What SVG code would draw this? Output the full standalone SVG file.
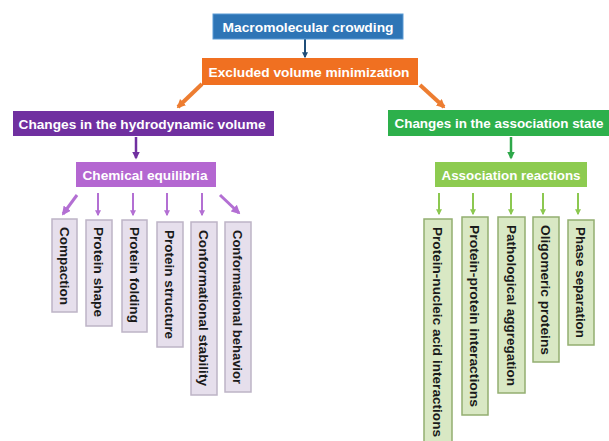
<svg xmlns="http://www.w3.org/2000/svg" width="609" height="441" viewBox="0 0 609 441">
<style>
text{font-family:"Liberation Sans",Arial,sans-serif;font-weight:bold;font-size:13.5px}
.w{fill:#ffffff}
.t{text-anchor:middle}
.v{fill:#1a1a1a;font-size:13.5px}
.pb{fill:#E6DFEC;stroke:#BDB4C6;stroke-width:1.5}
.gb{fill:#D9E8C4;stroke:#93AE70;stroke-width:1.5}
</style>
<defs>
<marker id="mb" viewBox="0 0 10 10" refX="8" refY="5" markerWidth="3" markerHeight="3" orient="auto"><path d="M0,0 L10,5 L0,10 z" fill="#1F4E79"/></marker>
<marker id="mo" viewBox="0 0 10 10" refX="8" refY="5" markerWidth="2.2" markerHeight="2.2" orient="auto"><path d="M0,0 L10,5 L0,10 z" fill="#ED7D31"/></marker>
<marker id="mp" viewBox="0 0 10 10" refX="8" refY="5" markerWidth="3" markerHeight="3" orient="auto"><path d="M0,0 L10,5 L0,10 z" fill="#7030A0"/></marker>
<marker id="ml" viewBox="0 0 10 10" refX="8" refY="5" markerWidth="3" markerHeight="3" orient="auto"><path d="M0,0 L10,5 L0,10 z" fill="#B36FD3"/></marker>
<marker id="mg" viewBox="0 0 10 10" refX="8" refY="5" markerWidth="3" markerHeight="3" orient="auto"><path d="M0,0 L10,5 L0,10 z" fill="#2EA84A"/></marker>
<marker id="mq" viewBox="0 0 10 10" refX="8" refY="5" markerWidth="3" markerHeight="3" orient="auto"><path d="M0,0 L10,5 L0,10 z" fill="#8CC850"/></marker>
</defs>
<rect width="609" height="441" fill="#ffffff"/>
<g id="connectors" fill="none">
<line x1="305" y1="39" x2="305" y2="57" stroke="#1F4E79" stroke-width="2" marker-end="url(#mb)"/>
<line x1="202" y1="84" x2="178" y2="107" stroke="#ED7D31" stroke-width="4" marker-end="url(#mo)"/>
<line x1="420" y1="85" x2="444" y2="107" stroke="#ED7D31" stroke-width="4" marker-end="url(#mo)"/>
<line x1="136" y1="137" x2="136" y2="158" stroke="#7030A0" stroke-width="2.5" marker-end="url(#mp)"/>
<line x1="511" y1="137" x2="511" y2="158" stroke="#2EA84A" stroke-width="2.5" marker-end="url(#mg)"/>
<line x1="77" y1="195" x2="63" y2="214" stroke="#B36FD3" stroke-width="3" marker-end="url(#ml)"/>
<line x1="98" y1="193" x2="98" y2="215" stroke="#B36FD3" stroke-width="2" marker-end="url(#ml)"/>
<line x1="133" y1="193" x2="133" y2="215" stroke="#B36FD3" stroke-width="2" marker-end="url(#ml)"/>
<line x1="167" y1="193" x2="167" y2="215" stroke="#B36FD3" stroke-width="2" marker-end="url(#ml)"/>
<line x1="202" y1="193" x2="202" y2="215" stroke="#B36FD3" stroke-width="2" marker-end="url(#ml)"/>
<line x1="220" y1="195" x2="239" y2="213" stroke="#B36FD3" stroke-width="3" marker-end="url(#ml)"/>
<line x1="439" y1="193" x2="439" y2="214" stroke="#8CC850" stroke-width="2" marker-end="url(#mq)"/>
<line x1="473" y1="193" x2="473" y2="214" stroke="#8CC850" stroke-width="2" marker-end="url(#mq)"/>
<line x1="511" y1="193" x2="511" y2="214" stroke="#8CC850" stroke-width="2" marker-end="url(#mq)"/>
<line x1="543" y1="193" x2="543" y2="214" stroke="#8CC850" stroke-width="2" marker-end="url(#mq)"/>
<line x1="578" y1="193" x2="578" y2="214" stroke="#8CC850" stroke-width="2" marker-end="url(#mq)"/>
</g>
<g id="n-crowding"><rect x="213" y="14" width="190" height="25" fill="#2E75B6" stroke="#5B9BD5" stroke-width="1"/><text class="w t" x="308" y="31.5" textLength="171" lengthAdjust="spacingAndGlyphs">Macromolecular crowding</text></g>
<g id="n-excluded"><rect x="202" y="58" width="216" height="27" fill="#F07021"/><text class="w t" x="309" y="76.5" textLength="201" lengthAdjust="spacingAndGlyphs">Excluded volume minimization</text></g>
<g id="n-hydro"><rect x="13" y="111" width="261" height="25" fill="#7030A0"/><text class="w t" x="142" y="128.5" textLength="247" lengthAdjust="spacingAndGlyphs">Changes in the hydrodynamic volume</text></g>
<g id="n-assoc"><rect x="388" y="110" width="221" height="26" fill="#2DB04B"/><text class="w t" x="499" y="128" textLength="209" lengthAdjust="spacingAndGlyphs">Changes in the association state</text></g>
<g id="n-chem"><rect x="76" y="162" width="140" height="25" fill="#B467D1"/><text class="w t" x="145" y="179.5" textLength="125" lengthAdjust="spacingAndGlyphs">Chemical equilibria</text></g>
<g id="n-areact"><rect x="435" y="162" width="152" height="25" fill="#8DCB50"/><text class="w t" x="511" y="179.5" textLength="139" lengthAdjust="spacingAndGlyphs">Association reactions</text></g>
<g id="n-compaction"><rect class="pb" x="52" y="219" width="25" height="93"/><text class="v" transform="translate(64.5,227) rotate(90)" y="5" textLength="78" lengthAdjust="spacingAndGlyphs">Compaction</text></g>
<g id="n-shape"><rect class="pb" x="86" y="220" width="26" height="106"/><text class="v" transform="translate(99,227) rotate(90)" y="5" textLength="90" lengthAdjust="spacingAndGlyphs">Protein shape</text></g>
<g id="n-folding"><rect class="pb" x="122" y="220" width="25" height="112"/><text class="v" transform="translate(134.5,227) rotate(90)" y="5" textLength="96" lengthAdjust="spacingAndGlyphs">Protein folding</text></g>
<g id="n-structure"><rect class="pb" x="157" y="222" width="26" height="125"/><text class="v" transform="translate(170,230) rotate(90)" y="5" textLength="109" lengthAdjust="spacingAndGlyphs">Protein structure</text></g>
<g id="n-stability"><rect class="pb" x="191" y="222" width="26" height="173"/><text class="v" transform="translate(204,230) rotate(90)" y="5" textLength="156" lengthAdjust="spacingAndGlyphs">Conformational stability</text></g>
<g id="n-behavior"><rect class="pb" x="225" y="222" width="26" height="170"/><text class="v" transform="translate(238,230) rotate(90)" y="5" textLength="154" lengthAdjust="spacingAndGlyphs">Conformational behavior</text></g>
<g id="n-pna"><rect class="gb" x="424" y="219" width="28" height="225"/><text class="v" transform="translate(438,227) rotate(90)" y="5" textLength="210" lengthAdjust="spacingAndGlyphs">Protein-nucleic acid interactions</text></g>
<g id="n-ppi"><rect class="gb" x="462" y="217" width="26" height="198"/><text class="v" transform="translate(475,225) rotate(90)" y="5" textLength="182" lengthAdjust="spacingAndGlyphs">Protein-protein interactions</text></g>
<g id="n-path"><rect class="gb" x="498" y="217" width="27" height="176"/><text class="v" transform="translate(511.5,225) rotate(90)" y="5" textLength="161" lengthAdjust="spacingAndGlyphs">Pathological aggregation</text></g>
<g id="n-oligo"><rect class="gb" x="533" y="217" width="26" height="145"/><text class="v" transform="translate(546,225) rotate(90)" y="5" textLength="130" lengthAdjust="spacingAndGlyphs">Oligomeric proteins</text></g>
<g id="n-phase"><rect class="gb" x="568" y="220" width="26" height="125"/><text class="v" transform="translate(581,227) rotate(90)" y="5" textLength="111" lengthAdjust="spacingAndGlyphs">Phase separation</text></g>
</svg>
